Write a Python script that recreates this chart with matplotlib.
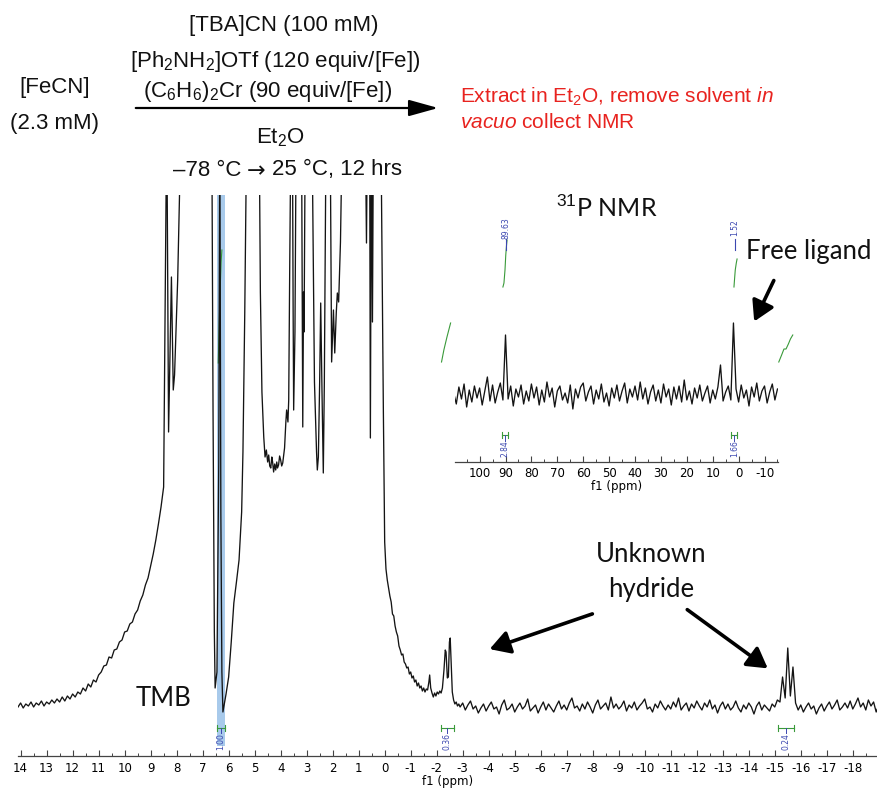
import numpy as np
import matplotlib
matplotlib.use("Agg")
import matplotlib.pyplot as plt
from matplotlib.ticker import MultipleLocator, FuncFormatter
from matplotlib.patches import FancyArrowPatch

plt.rcParams['font.family'] = ['Liberation Sans', 'DejaVu Sans']
plt.rcParams['mathtext.fontset'] = 'custom'
plt.rcParams['mathtext.rm'] = 'Liberation Sans'
plt.rcParams['mathtext.it'] = 'Liberation Sans:italic'
plt.rcParams['mathtext.bf'] = 'Liberation Sans:bold'

# ---- 1H spectrum (intensity in arbitrary units, baseline = 0) ----
# left broad shoulder, sampled every 0.1 ppm from 14.1 ppm
h1_left_start = 14.1
h1_left_int = [5, 9, 4, 8, 6, 10, 5, 9, 7, 11,
               6, 10, 8, 12, 9, 13, 10, 15, 11, 16,
               13, 18, 15, 20, 18, 24, 21, 28, 25, 32,
               30, 37, 40, 46, 47, 55, 54, 62, 63, 70,
               72, 80, 81, 88, 90, 98, 102, 111, 117, 127,
               134, 146, 158, 172, 188, 205]

# crowded middle region (ppm, intensity); 600 = off scale
h1_mid = [(8.5, 225), (8.38, 600), (8.31, 280), (8.2, 435), (8.13, 322),
          (8.08, 337), (7.96, 432), (7.82, 600), (7.0, 600), (6.65, 600),
          (6.6, 300), (6.55, 80), (6.52, 24), (6.45, 40), (6.38, 250),
          (6.34, 600), (6.3, 200), (6.26, 40), (6.22, 0), (6.1, 18),
          (6.0, 35), (5.9, 70), (5.8, 109), (5.7, 130), (5.6, 152),
          (5.5, 200), (5.45, 260), (5.38, 400), (5.3, 600), (4.83, 600),
          (4.78, 420), (4.72, 320), (4.65, 275), (4.6, 255), (4.55, 262),
          (4.5, 250), (4.46, 257), (4.42, 246), (4.38, 244), (4.34, 255),
          (4.31, 250), (4.27, 240), (4.23, 248), (4.19, 242), (4.15, 250),
          (4.12, 244), (4.08, 247), (4.04, 256), (4.0, 252), (3.96, 246),
          (3.92, 249), (3.88, 258), (3.85, 264), (3.8, 290), (3.77, 302),
          (3.72, 290), (3.69, 312), (3.65, 450), (3.6, 600), (3.55, 600),
          (3.52, 400), (3.5, 302), (3.45, 380), (3.4, 600), (3.2, 600),
          (3.15, 285), (3.12, 420), (3.1, 380), (3.05, 600), (2.8, 600),
          (2.7, 330), (2.62, 260), (2.59, 242), (2.55, 255), (2.5, 330),
          (2.46, 409), (2.41, 320), (2.36, 239), (2.32, 330), (2.25, 600),
          (2.1, 600), (2.04, 350), (1.97, 402), (1.92, 359), (1.86, 400),
          (1.82, 419), (1.77, 410), (1.7, 470), (1.62, 600), (0.75, 600),
          (0.7, 469), (0.66, 600), (0.58, 600), (0.55, 274), (0.51, 600),
          (0.47, 390), (0.43, 600), (0.15, 600), (0.05, 300), (0.0, 170),
          (-0.05, 143), (-0.1, 132), (-0.15, 124), (-0.2, 116), (-0.25, 110),
          (-0.3, 98), (-0.35, 96), (-0.4, 86), (-0.45, 80), (-0.5, 76),
          (-0.55, 66), (-0.6, 62), (-0.65, 57), (-0.7, 58), (-0.75, 50),
          (-0.8, 48), (-0.85, 44), (-0.9, 45), (-0.95, 38), (-1.0, 40),
          (-1.05, 34), (-1.1, 36), (-1.15, 30), (-1.2, 32), (-1.25, 26),
          (-1.3, 29), (-1.35, 24), (-1.4, 26), (-1.45, 21), (-1.5, 24),
          (-1.55, 20), (-1.6, 23), (-1.65, 22), (-1.7, 30), (-1.73, 37),
          (-1.77, 24), (-1.82, 19), (-1.87, 15), (-1.92, 19), (-1.97, 16),
          (-2.02, 20), (-2.07, 18), (-2.12, 21), (-2.17, 19), (-2.22, 24),
          (-2.28, 42), (-2.33, 62), (-2.36, 60), (-2.41, 34), (-2.45, 35),
          (-2.49, 70), (-2.52, 74), (-2.56, 48), (-2.6, 20), (-2.65, 12),
          (-2.7, 8), (-2.75, 10), (-2.8, 6), (-2.85, 8)]

# flat noisy baseline, sampled every 0.1 ppm from -2.9 ppm
h1_right_start = -2.9
h1_right_int = [5, 9, 2, 7, 11, 3, 6, -1, 4, 8,
                1, 6, 10, 3, 5, -2, 7, 12, 2, 4,
                8, 0, 5, 9, 3, 6, 13, 1, 4, 7,
                -1, 5, 10, 2, 8, 4, 0, 6, 11, 3,
                7, 2, 9, 14, 4, 6, 1, 8, 3, 10,
                5, -1, 7, 12, 3, 6, 9, 2, 15, 4,
                8, 3, 6, 11, 1, 7, 4, 10, 2, 6,
                9, 13, 3, 5, 0, 8, 4, 11, 6, 2,
                7, 3, 10, 5, 14, 2, 6, 9, 1, 8,
                4, 11, 6, 2, 9, 5, 12, 3, 7, -1,
                6, 10, 3, 8, 2, 5, 11, 4, 0, 7,
                3, 9, 5, -2, 6, 10, 2, 7, 4, 1,
                8, 5, 12, 10, 35, 14, 64, 16, 45, 9,
                2, 7, 0, 5, 9, 3, 6, -2, 4, 8,
                1, 6, 10, 3, 7, 12, 2, 5, 9, 4,
                11, 3, 8, 14, 5, 9, 2, 12, 6, 10,
                0, 7]

h1_integrals = [("1.00", 6.46, 6.15), ("0.36", -2.15, -2.65), ("0.24", -15.12, -15.73)]
h1_integral_curve = [(6.40, 349), (6.37, 380), (6.33, 420), (6.29, 450), (6.26, 462)]

# ---- 31P spectrum, sampled every 1 ppm from 110 ppm ----
p31_start = 110
p31_int = [2, -9, 8, -4, 11, -12, 5, -7, 9, -3,
           7, -10, 4, 18, -6, 10, -8, 3, 12, -5,
           60,
           -4, 9, -11, 6, -2, 10, -9, 4, -6,
           11, -3, 8, -10, 5, -7, 13, -2, 7, -12,
           4, 9, -5, 2, -8, 10, -14, 6, -3, 8,
           12, -6, 3, 9, -9, 5, -4, 11, -7, 2,
           -11, 7, -3, 10, -6, 4, 12, -8, 6, -2,
           9, -5, 13, -4, 7, -9, 3, 10, -6, 5,
           -8, 11, -2, 6, -10, 8, -4, 9, -7, 15,
           -5, 4, -9, 7, -3, 10, -6, 2, 9, -8,
           5, -4, 8, 30, -6, 3, 9, -5, 72, 6,
           -7, 10, -3, 5, -11, 8, -2, 12, -6, 4,
           9, -8, 3, 11, -5, 6]

p31_peaks = [("89.63", 89.63), ("1.52", 1.52)]
p31_integrals = [("2.84", 91.2, 88.9), ("1.66", 2.8, 0.5)]
p31_curves = [
    [(114.7, 33), (113.8, 45), (112.6, 58), (111.2, 72)],
    [(91.0, 108), (90.6, 112), (90.2, 125), (89.9, 140), (89.6, 150), (89.4, 155)],
    [(1.8, 108), (1.6, 115), (1.3, 125), (0.9, 132), (0.6, 136)],
    [(-15.5, 33), (-16.6, 40), (-17.5, 46), (-18.3, 46), (-19.2, 51), (-20.0, 56), (-20.9, 60)],
]

# ---------------------------------------------------------------
W, H = 878, 788
fig = plt.figure(figsize=(W / 100, H / 100), dpi=100)


def fx(px):
    return px / W


def fy(py):
    return 1 - py / H


green = '#3a9a3a'
blue = '#3b47b0'
tick_fmt = FuncFormatter(lambda v, p: f"{int(round(v))}")

h1_ppm = np.concatenate([
    h1_left_start - 0.1 * np.arange(len(h1_left_int)),
    [p for p, _ in h1_mid],
    h1_right_start - 0.1 * np.arange(len(h1_right_int)),
])
h1_y = np.concatenate([h1_left_int, [v for _, v in h1_mid], h1_right_int])

ax = fig.add_axes([fx(18), fy(756), fx(878) - fx(18), fy(195) - fy(756)])
ax.set_facecolor('none')
ax.plot(h1_ppm, h1_y, color='#141414', lw=0.95, zorder=3)
ax.set_xlim(14.1, -18.97)
ax.set_ylim(-44, 517)
for s in ['left', 'right', 'top']:
    ax.spines[s].set_visible(False)
ax.spines['bottom'].set_color('#444444')
ax.spines['bottom'].set_linewidth(0.9)
ax.set_yticks([])
ax.xaxis.set_major_locator(MultipleLocator(1))
ax.xaxis.set_minor_locator(MultipleLocator(0.5))
ax.xaxis.set_major_formatter(tick_fmt)
ax.tick_params(axis='x', which='major', direction='in', length=4, width=0.8,
               pad=4, labelsize=8.5, labelfontfamily='DejaVu Sans', color='#444444')
ax.tick_params(axis='x', which='minor', direction='in', length=2.5, width=0.7, color='#444444')
ax.set_xlabel('f1 (ppm)', fontsize=8.5, fontfamily='DejaVu Sans', labelpad=0)

# TMB integral band
ax.axvspan(6.15, 6.46, ymin=0.018, ymax=1, color='#a4c7ea', alpha=0.95, lw=0, zorder=1)
ax.plot([p for p, _ in h1_integral_curve], [v for _, v in h1_integral_curve],
        color=green, lw=0.8, zorder=2)

for lab, a, b in h1_integrals:
    m = (a + b) / 2
    ax.plot([a, b], [-16, -16], color=green, lw=0.8)
    ax.plot([a, a], [-13, -19], color=green, lw=0.8)
    ax.plot([b, b], [-13, -19], color=green, lw=0.8)
    ax.plot([m, m], [-16, -21], color=blue, lw=0.7)
    ax.text(m, -30, lab, rotation=90, ha='center', va='center', fontsize=5.5,
            color=blue, fontfamily='DejaVu Sans')

# ---- 31P inset ----
ax2 = fig.add_axes([fx(455), fy(461.7), fx(778) - fx(455), fy(200) - fy(461.7)])
ax2.set_facecolor('none')
p31_ppm = p31_start - np.arange(len(p31_int))
ax2.plot(p31_ppm, p31_int, color='#141414', lw=0.95)
ax2.set_xlim(109.5, -15.2)
ax2.set_ylim(-66.7, 195)
for s in ['left', 'right', 'top']:
    ax2.spines[s].set_visible(False)
ax2.spines['bottom'].set_color('#444444')
ax2.spines['bottom'].set_linewidth(0.9)
ax2.set_yticks([])
ax2.xaxis.set_major_locator(MultipleLocator(10))
ax2.xaxis.set_minor_locator(MultipleLocator(5))
ax2.xaxis.set_major_formatter(tick_fmt)
ax2.tick_params(axis='x', which='major', direction='in', length=4, width=0.8,
                pad=3.5, labelsize=8.5, labelfontfamily='DejaVu Sans', color='#444444')
ax2.tick_params(axis='x', which='minor', direction='in', length=2.5, width=0.7, color='#444444')
ax2.set_xlabel('f1 (ppm)', fontsize=8.5, fontfamily='DejaVu Sans', labelpad=0)

for curve in p31_curves:
    ax2.plot([p for p, _ in curve], [v for _, v in curve], color=green, lw=0.8, clip_on=False)

for lab, pos in p31_peaks:
    ax2.plot([pos, pos], [145, 156], color=blue, lw=0.8, clip_on=False)
    ax2.text(pos, 167, lab, rotation=90, ha='center', va='center', fontsize=5.5,
             color=blue, fontfamily='DejaVu Sans', clip_on=False)

for lab, a, b in p31_integrals:
    m = (a + b) / 2
    ax2.plot([a, b], [-40, -40], color=green, lw=0.8)
    ax2.plot([a, a], [-37, -43], color=green, lw=0.8)
    ax2.plot([b, b], [-37, -43], color=green, lw=0.8)
    ax2.plot([m, m], [-40, -46], color=blue, lw=0.7)
    ax2.text(m, -54, lab, rotation=90, ha='center', va='center', fontsize=5.5,
             color=blue, fontfamily='DejaVu Sans')

# ---- annotations ----
lato = dict(fontfamily='Lato', color='#111111', ha='center', va='center')
fig.text(fx(607), fy(208), r'$^{31}$P NMR', fontsize=18, **lato)
fig.text(fx(809), fy(252), 'Free ligand', fontsize=18.5, **lato)
fig.text(fx(164), fy(698), 'TMB', fontsize=18.5, **lato)
fig.text(fx(651), fy(555), 'Unknown', fontsize=18.5, **lato)
fig.text(fx(651), fy(590), 'hydride', fontsize=18.5, **lato)

arrow_kw = dict(transform=fig.transFigure, arrowstyle='-|>,head_length=0.55,head_width=0.32',
                mutation_scale=22, lw=2.6, color='black')
for (x0, y0), (x1, y1) in [((775, 278), (753, 324)),
                           ((595, 613), (487, 650)),
                           ((685, 608), (770, 670))]:
    fig.add_artist(FancyArrowPatch((fx(x0), fy(y0)), (fx(x1), fy(y1)), **arrow_kw))

# ---- reaction scheme ----
sch = dict(fontsize=16, va='center', color='#111111')
fig.text(fx(284), fy(25), '[TBA]CN (100 mM)', ha='center', **sch)
fig.text(fx(275), fy(62), '[Ph$_2$NH$_2$]OTf (120 equiv/[Fe])', ha='center', **sch)
fig.text(fx(268), fy(92), '(C$_6$H$_6$)$_2$Cr (90 equiv/[Fe])', ha='center', **sch)
fig.text(fx(55), fy(88), '[FeCN]', ha='center', **sch)
fig.text(fx(55), fy(123), '(2.3 mM)', ha='center', **sch)
fig.text(fx(280), fy(138), 'Et$_2$O', ha='center', **sch)
fig.text(fx(241), fy(170), '\u201378 \u00b0C', ha='right', **sch)
fig.text(fx(256), fy(171), '\u2192', ha='center', fontfamily='DejaVu Sans',
         fontsize=16, va='center', color='#111111')
fig.text(fx(272), fy(170), '25 \u00b0C, 12 hrs', ha='left', **sch)
fig.add_artist(FancyArrowPatch((fx(133), fy(108)), (fx(441), fy(108)),
                               transform=fig.transFigure,
                               arrowstyle='-|>,head_length=0.9,head_width=0.25',
                               mutation_scale=20, lw=1.6, color='black'))

red = '#e8231f'
fig.text(fx(460), fy(97), r'Extract in Et$_2$O, remove solvent $\mathit{in}$',
         fontsize=15, color=red, ha='left', va='center')
fig.text(fx(460), fy(122), r'$\mathit{vacuo}$ collect NMR',
         fontsize=15, color=red, ha='left', va='center')

fig.savefig('out.png', dpi=100)
